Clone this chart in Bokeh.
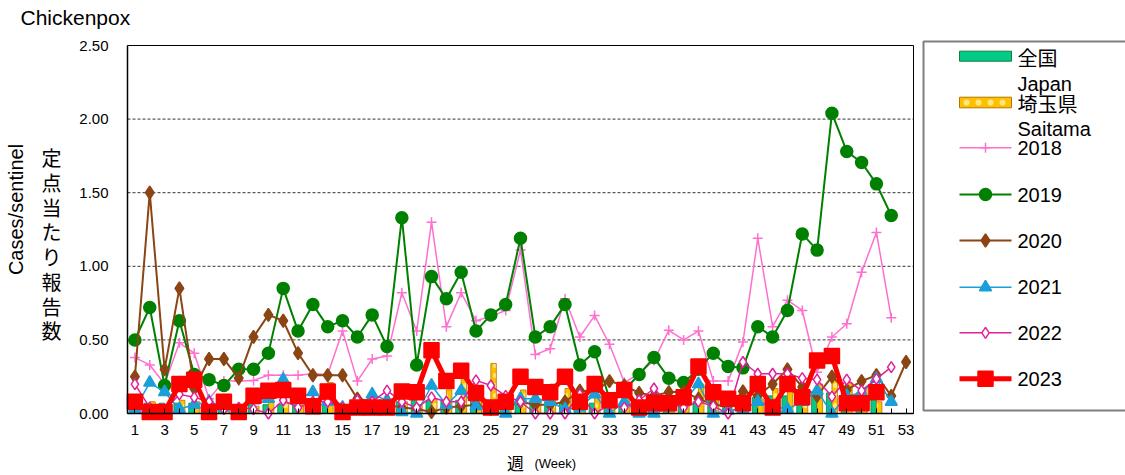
import math
from bokeh.plotting import figure
from bokeh.models import Range1d, FixedTicker, Label, LinearAxis
from bokeh.core.properties import value
from bokeh.embed import file_html
from bokeh.resources import INLINE

# ---------------- data ----------------
weeks = list(range(1, 54))
week_labels = {w: (str(w) if w % 2 == 1 else "") for w in weeks}
y_ticks = [0.0, 0.5, 1.0, 1.5, 2.0, 2.5]
y_tick_labels = {0.0: "0.00", 0.5: "0.50", 1.0: "1.00", 1.5: "1.50", 2.0: "2.00", 2.5: "2.50"}
grid_ticks = [0.5, 1.0, 1.5, 2.0]

japan = [0.06, 0.07, 0.07, 0.07, 0.07, 0.06, 0.07, 0.06, 0.06, 0.06,
         0.06, 0.07, 0.07, 0.07, 0.07, 0.07, 0.08, 0.08, 0.08, 0.09,
         0.09, 0.09, 0.09, 0.09, 0.09, 0.08, 0.08, 0.08, 0.08, 0.07,
         0.07, 0.07, 0.06, 0.06, 0.06, 0.06, 0.07, 0.07, 0.08, 0.09,
         0.09, 0.10, 0.11, 0.12, 0.12, 0.13, 0.14, 0.14, 0.14, 0.14, 0.14]
saitama = [0.03, 0.08, 0.03, 0.09, 0.08, 0.03, 0.13, 0.04, 0.05, 0.10,
           0.07, 0.06, 0.10, 0.21, 0.06, 0.10, 0.07, 0.10, 0.08, 0.06,
           0.10, 0.16, 0.25, 0.16, 0.34, 0.08, 0.16, 0.10, 0.20, 0.17,
           0.10, 0.13, 0.14, 0.10, 0.04, 0.10, 0.12, 0.09, 0.20, 0.10,
           0.03, 0.06, 0.10, 0.17, 0.16, 0.16, 0.20, 0.25, 0.21, 0.17, 0.08]

y2018 = [0.38, 0.33, 0.20, 0.48, 0.41, 0.10, 0.22, 0.22, 0.225, 0.26,
         0.26, 0.26, 0.27, 0.265, 0.56, 0.22, 0.37, 0.39, 0.82, 0.56,
         1.30, 0.59, 0.82, 0.63, 0.66, 0.70, 1.11, 0.40, 0.44, 0.78,
         0.52, 0.665, 0.47, 0.21, 0.27, 0.36, 0.565, 0.50, 0.56, 0.22,
         0.22, 0.485, 1.19, 0.59, 0.77, 0.70, 0.28, 0.52, 0.61, 0.96,
         1.23, 0.65]
y2019 = [0.50, 0.72, 0.19, 0.63, 0.265, 0.23, 0.19, 0.30, 0.30, 0.41,
         0.85, 0.56, 0.74, 0.59, 0.63, 0.52, 0.67, 0.455, 1.33, 0.33,
         0.93, 0.78, 0.96, 0.56, 0.67, 0.74, 1.19, 0.52, 0.59, 0.74,
         0.33, 0.42, 0.10, 0.16, 0.265, 0.38, 0.24, 0.21, 0.30, 0.41,
         0.32, 0.31, 0.59, 0.52, 0.70, 1.22, 1.11, 2.04, 1.78, 1.705,
         1.56, 1.345]
y2020 = [0.25, 1.50, 0.30, 0.85, 0.17, 0.37, 0.37, 0.24, 0.52, 0.67,
         0.63, 0.41, 0.26, 0.26, 0.26, 0.10, 0.08, 0.06, 0.04, 0.03,
         0.01, 0.04, 0.05, 0.06, 0.03, 0.04, 0.08, 0.06, 0.06, 0.08,
         0.155, 0.15, 0.22, 0.19, 0.14, 0.12, 0.145, 0.15, 0.10, 0.06,
         0.05, 0.15, 0.12, 0.20, 0.30, 0.18, 0.12, 0.25, 0.16, 0.22,
         0.26, 0.12, 0.35]
y2021 = [0.03, 0.21, 0.145, 0.03, 0.06, 0.08, 0.04, 0.02, 0.09, 0.10,
         0.23, 0.10, 0.145, 0.08, 0.04, 0.03, 0.13, 0.09, 0.01, 0.0,
         0.19, 0.06, 0.155, 0.05, 0.02, 0.0, 0.10, 0.10, 0.08, 0.03,
         0.04, 0.13, 0.0, 0.08, 0.0, 0.0, 0.04, 0.08, 0.20, 0.0,
         0.02, 0.03, 0.08, 0.05, 0.03, 0.08, 0.155, 0.0, 0.12, 0.14,
         0.235, 0.08]
y2022 = [0.20, 0.04, 0.02, 0.13, 0.11, 0.08, 0.03, 0.04, 0.03, 0.0,
         0.09, 0.04, 0.08, 0.08, 0.04, 0.09, 0.08, 0.155, 0.08, 0.04,
         0.11, 0.08, 0.08, 0.225, 0.19, 0.12, 0.08, 0.0, 0.0, 0.0,
         0.13, 0.0, 0.06, 0.04, 0.09, 0.17, 0.065, 0.04, 0.08, 0.05,
         0.0, 0.35, 0.27, 0.27, 0.27, 0.24, 0.23, 0.115, 0.23, 0.155,
         0.235, 0.315]
y2023 = [0.08, 0.01, 0.01, 0.20, 0.23, 0.01, 0.08, 0.01, 0.12, 0.155,
         0.16, 0.12, 0.05, 0.15, 0.01, 0.04, 0.04, 0.04, 0.15, 0.145,
         0.43, 0.22, 0.29, 0.14, 0.04, 0.08, 0.25, 0.18, 0.145, 0.25,
         0.08, 0.20, 0.09, 0.16, 0.04, 0.07, 0.07, 0.11, 0.32, 0.145,
         0.10, 0.07, 0.20, 0.04, 0.20, 0.11, 0.36, 0.39, 0.07, 0.07, 0.145]

# ---------------- styles / layout ----------------
FONT = "Liberation Sans"
JFONT = "Noto Sans CJK JP"
C_JP_FILL, C_JP_LINE = "#00CC88", "#1A7A3A"
C_ST_FILL, C_ST_LINE = "#FFC000", "#B07800"
C18, C19, C20, C21, C22, C23 = "#FF6FCF", "#008000", "#8B4513", "#1A9FD9", "#E0209A", "#FF0000"

W, H = 1125, 475
PL, PR, PT, PB = 127, 913, 45, 413          # plot-area pixel box
XMIN, XMAX, YMIN, YMAX = 0.5, 53.5, 0.0, 2.5
SX = (PR - PL) / (XMAX - XMIN)
SY = (PB - PT) / (YMAX - YMIN)

def dx(px):
    return XMIN + (px - PL) / SX

def dy(py):
    return YMIN + (PB - py) / SY

p = figure(width=W, height=H, x_range=Range1d(dx(0), dx(W)), y_range=Range1d(dy(H), dy(0)),
           output_backend="svg", toolbar_location=None, title=None,
           x_axis_location=None, y_axis_location=None, min_border=0)
p.outline_line_color = None
p.background_fill_color = "white"
p.border_fill_color = "white"
p.grid.visible = False

# plot area box + grid lines
p.quad(left=[XMIN], right=[XMAX], bottom=[YMIN], top=[YMAX], fill_color=None,
       line_color="black", line_width=1)
p.segment(x0=[XMIN] * len(grid_ticks), x1=[XMAX] * len(grid_ticks), y0=grid_ticks, y1=grid_ticks,
          line_color="#333333", line_dash="3 2", line_width=1)

# axes fixed to the plot-area edges
xax = LinearAxis(fixed_location=YMIN, bounds=(XMIN, XMAX), ticker=FixedTicker(ticks=weeks))
xax.major_label_overrides = week_labels
xax.major_tick_in = 5
xax.major_tick_out = 0
xax.major_label_standoff = 11
yax = LinearAxis(fixed_location=XMIN, bounds=(YMIN, YMAX), ticker=FixedTicker(ticks=y_ticks))
yax.major_label_overrides = y_tick_labels
yax.major_tick_in = 0
yax.major_tick_out = 0
yax.major_label_standoff = 19
for ax in (xax, yax):
    ax.minor_tick_line_color = None
    ax.axis_line_color = "black"
    ax.axis_line_width = 1.5
    ax.major_tick_line_color = "black"
    ax.major_label_text_font = FONT
    ax.major_label_text_font_size = "15px"
    ax.major_label_text_color = "black"
p.add_layout(xax, "below")
p.add_layout(yax, "left")

# bars
bw = 0.37
bar_weeks = weeks[:len(japan)]
p.vbar(x=[w - bw / 2 for w in bar_weeks], top=japan, width=bw, bottom=0,
       fill_color=C_JP_FILL, line_color=C_JP_LINE, line_width=0.8)
p.vbar(x=[w + bw / 2 for w in bar_weeks], top=saitama, width=bw, bottom=0,
       fill_color=C_ST_FILL, line_color=C_ST_LINE, line_width=0.8,
       hatch_pattern="dot", hatch_color="#FFE680", hatch_scale=10, hatch_weight=2)

# lines
def series(vals, color, lw, marker, size, fill=None):
    xs = weeks[:len(vals)]
    p.line(xs, vals, line_color=color, line_width=lw)
    p.scatter(xs, vals, marker=marker, size=size, line_color=color,
              fill_color=fill if fill is not None else color, line_width=1.5)

series(y2018, C18, 1.5, "cross", 10)
series(y2019, C19, 2, "circle", 12)
series(y2020, C20, 2, "diamond", 13)
series(y2021, C21, 1.5, "triangle", 12)
series(y2022, C22, 1.5, "diamond", 11, fill="white")
series(y2023, C23, 5, "square", 15)

# texts
p.add_layout(Label(x=dx(20), y=dy(17), text="Chickenpox", text_font=FONT, text_color="black",
                   text_font_size="21px", text_baseline="middle", text_align="left"))
p.add_layout(Label(x=dx(15), y=dy(209), text="Cases/sentinel", text_font=FONT, text_color="black",
                   text_font_size="20px", text_baseline="middle", text_align="center",
                   angle=math.pi / 2))
for i, ch in enumerate("定点当たり報告数"):
    p.add_layout(Label(x=dx(51), y=dy(157 + i * 24.76), text=ch, text_font=JFONT,
                       text_color="black", text_font_size="20px",
                       text_baseline="middle", text_align="center"))
p.add_layout(Label(x=dx(515), y=dy(462), text="週", text_font=JFONT, text_color="black",
                   text_font_size="17px", text_baseline="middle", text_align="center"))
p.add_layout(Label(x=dx(534), y=dy(463), text="(Week)", text_font=FONT, text_color="black",
                   text_font_size="13px", text_baseline="middle", text_align="left"))

# ---------------- legend ----------------
p.quad(left=[dx(923)], right=[dx(1200)], top=[dy(41)], bottom=[dy(410)], fill_color="white",
       line_color="#7F7F7F", line_width=2)
sx0, sx1, mx, tx = dx(959), dx(1011), dx(985), dx(1017)
p.quad(left=[sx0], right=[sx1], top=[dy(50.7)], bottom=[dy(60.7)], fill_color=C_JP_FILL,
       line_color=C_JP_LINE, line_width=1)
p.quad(left=[sx0], right=[sx1], top=[dy(96.7)], bottom=[dy(107.3)], fill_color=C_ST_FILL,
       line_color=C_ST_LINE, line_width=1, hatch_pattern="dot", hatch_color="#FFE680",
       hatch_scale=12, hatch_weight=2)

leg_lines = [
    (147.3, C18, 1.5, "cross", 10, None),
    (194.0, C19, 2, "circle", 12, None),
    (240.0, C20, 2, "diamond", 13, None),
    (286.7, C21, 1.5, "triangle", 12, None),
    (332.3, C22, 1.5, "diamond", 11, "white"),
    (378.3, C23, 5, "square", 15, None),
]
for yy, col, lw, mk, sz, fill in leg_lines:
    p.line([sx0, sx1], [dy(yy), dy(yy)], line_color=col, line_width=lw)
    p.scatter([mx], [dy(yy)], marker=mk, size=sz, line_color=col,
              fill_color=fill if fill else col, line_width=1.5)

leg_texts = [("全国", 56.7, JFONT), ("Japan", 83.3, FONT), ("埼玉県", 102.7, JFONT),
             ("Saitama", 128.3, FONT), ("2018", 147.3, FONT), ("2019", 194.0, FONT),
             ("2020", 240.0, FONT), ("2021", 286.7, FONT), ("2022", 332.3, FONT),
             ("2023", 378.3, FONT)]
for txt, yy, fnt in leg_texts:
    p.text(x=[tx], y=[dy(yy)], text=[txt], text_font=value(fnt), text_font_size="20px",
           text_baseline="middle", text_align="left", text_color="black")

open("out.html", "w").write(file_html(p, INLINE))
